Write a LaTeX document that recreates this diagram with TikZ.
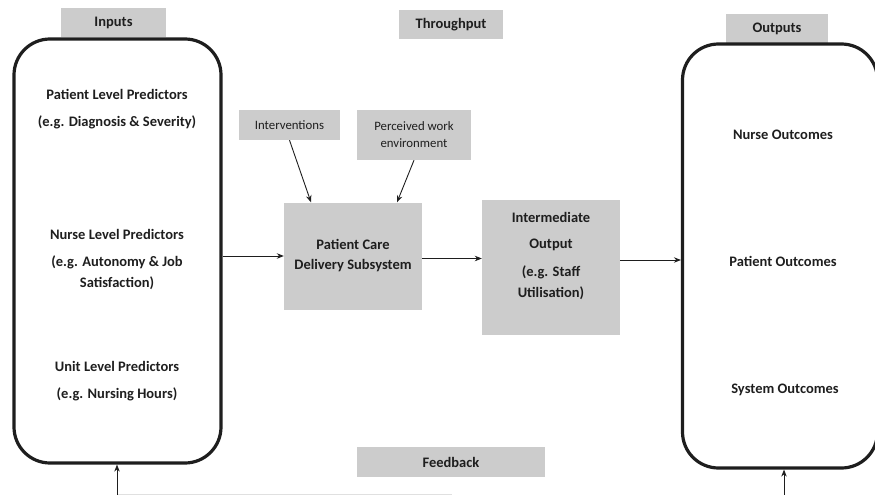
\documentclass[tikz,border=0pt]{standalone}
\usepackage{fontspec}
\setmainfont{Carlito}
\usetikzlibrary{arrows.meta,calc}
\definecolor{boxgray}{HTML}{CCCCCC}
\definecolor{ink}{HTML}{1E1E1E}
\tikzset{
  label box/.style={fill=boxgray, draw=none, inner sep=0pt, text=ink,
    font=\fontsize{14.5}{16}\selectfont\bfseries, align=center},
  note box/.style={fill=boxgray, draw=none, inner sep=0pt, text=ink,
    font=\fontsize{12.8}{17}\selectfont, align=center},
  group box/.style={draw=ink, line width=3.2pt, rounded corners=36pt, inner sep=0pt},
  txt/.style={text=ink, font=\fontsize{14.5}{16}\selectfont\bfseries, inner sep=0pt, align=center},
  flow/.style={draw=ink, line width=0.9pt, -{Stealth[length=7pt,width=5.5pt]}},
}
\begin{document}
\begin{tikzpicture}[x=1pt,y=-1pt]
\useasboundingbox (0,0) rectangle (875,495);

% heading boxes
\node[label box, minimum width=105pt, minimum height=29pt] (inputs) at (113.5,22.5) {Inputs};
\node[label box, minimum width=104pt, minimum height=29pt] (through) at (451,24.5) {Throughput};
\node[label box, minimum width=102pt, minimum height=30pt] (outputs) at (777,29) {Outputs};
\node[label box, minimum width=188pt, minimum height=30pt] (feedback) at (451,462) {Feedback};

% input and output groups
\node[group box, minimum width=207pt, minimum height=424pt] (lbox) at (117.5,251) {};
\node[group box, minimum width=195pt, minimum height=424pt] (rbox) at (780,256) {};

% input texts
\node[txt] (plp) at (117,94) {Patient Level Predictors};
\node[txt] (plpe) at (117,122) {(e.g. Diagnosis \& Severity)};
\node[txt] (nlp) at (117,234) {Nurse Level Predictors};
\node[txt] (nlpe) at (117,262) {(e.g. Autonomy \& Job};
\node[txt] (nlpe2) at (117,283) {Satisfaction)};
\node[txt] (ulp) at (117,366) {Unit Level Predictors};
\node[txt] (ulpe) at (117,394) {(e.g. Nursing Hours)};

% output texts
\node[txt] (nout) at (783,135) {Nurse Outcomes};
\node[txt] (pout) at (783,261) {Patient Outcomes};
\node[txt] (sout) at (785,390) {System Outcomes};

% throughput boxes
\node[note box, minimum width=101pt, minimum height=30pt] (intv) at (289.5,125) {Interventions};
\node[note box, minimum width=114pt, minimum height=50pt] (perc) at (414,135) {Perceived work\\environment};
\node[label box, minimum width=138pt, minimum height=107pt, font=\fontsize{14.5}{20}\selectfont\bfseries] (pcd) at (353,256) {Patient Care\\Delivery Subsystem};
\node[label box, minimum width=138pt, minimum height=135pt] (inter) at (551,267.5) {};
\node[txt] (it1) at (551,217) {Intermediate};
\node[txt] (it2) at (551,245) {Output};
\node[txt] (it3) at (551,272) {(e.g. Staff};
\node[txt] (it4) at (551,293) {Utilisation)};

% connectors
\draw[flow] (intv.south) -- ([xshift=-42pt]pcd.north);
\draw[flow] (perc.south) -- ([xshift=44pt]pcd.north);
\draw[flow] (pcd.west -| lbox.east) -- (pcd.west);
\draw[flow] ([yshift=-2.5pt]pcd.east) -- ([yshift=-2.5pt]pcd.east -| inter.west);
\draw[flow] ([yshift=7.5pt]inter.east) -- ([yshift=7.5pt]inter.east -| rbox.west);

% feedback loop, entering the page from below
\coordinate (fbL) at (117,495);
\coordinate (fbR) at (784,495);
\draw[draw=black!12, line width=0.8pt] (117,494.5) -- (452,494.5);
\draw[flow] (fbL) -- (fbL |- lbox.south);
\draw[flow] (fbR) -- (fbR |- rbox.south);
\end{tikzpicture}
\end{document}
